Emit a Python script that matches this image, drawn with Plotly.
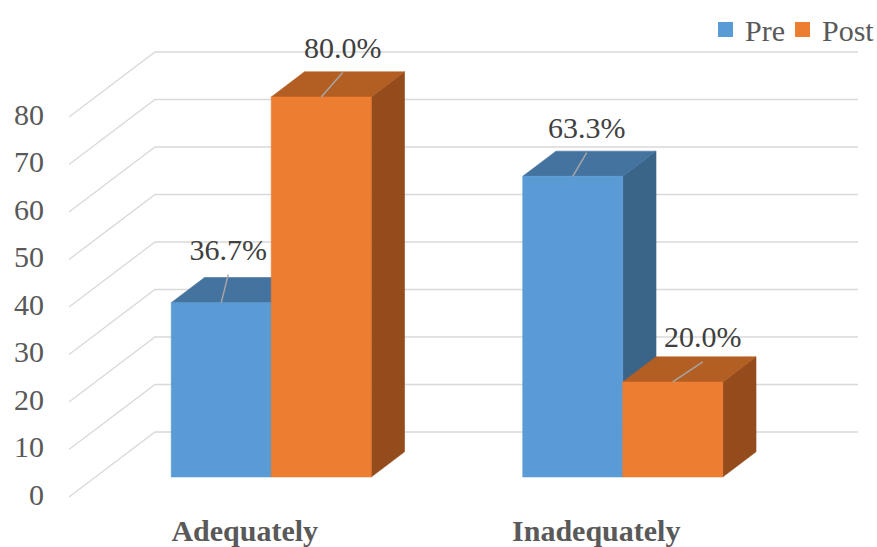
import plotly.graph_objects as go

# ---- data ----
categories = ["Adequately", "Inadequately"]
series_names = ["Pre", "Post"]
pre_values = [36.7, 63.3]
post_values = [80.0, 20.0]
tick_values = [0, 10, 20, 30, 40, 50, 60, 70, 80]

# ---- styling ----
FONT = "Liberation Serif, Times New Roman, serif"
TEXT_GREY = "#595959"
LABEL_GREY = "#404040"
GRID = "#D9D9D9"
FACE = {
    "Pre": {"front": "#5B9BD5", "top": "#44739F", "side": "#3A6488"},
    "Post": {"front": "#ED7D31", "top": "#B35E23", "side": "#954C1D"},
}

W, H = 877, 547
PX_PER_X = 351.5      # pixels per category step
PX_PER_V = 4.75       # pixels per value unit
X_LEFT_PX = 69        # pixel of x = -0.5 on the front plane
ZERO_PX = 497         # pixel of value 0 on the front plane

# oblique depth of the 3-D box (full depth), in data units
DX = 86 / PX_PER_X
DY = 65 / PX_PER_V
D0, D1 = 0.308, 0.695   # bar front / back depth fraction
BAR_W = 100 / PX_PER_X

# label offsets from each bar's top-front centre, in pixels (right, up)
label_offsets = {
    ("Pre", 0): (7, 50), ("Post", 0): (21.5, 46.5),
    ("Pre", 1): (14, 45.7), ("Post", 1): (30, 42),
}
LEADER_GAP = 22  # px from label centre down to leader start
CATEGORY_LABEL_PX = 36  # px below the front-plane zero line


def proj(x, v, d):
    return x + DX * d, v + DY * d


fig = go.Figure()

# 3-D wall gridlines: diagonal along the left side wall, then across the back wall
gx, gy = [], []
for t in tick_values:
    for (x, d) in [(-0.5, 0), (-0.5, 1), (1.5, 1)]:
        px_, py_ = proj(x, t, d)
        gx.append(px_)
        gy.append(py_)
    gx.append(None)
    gy.append(None)
fig.add_trace(go.Scatter(x=gx, y=gy, mode="lines",
                         line=dict(color=GRID, width=1.3),
                         hoverinfo="skip", showlegend=False))


def add_face(pts, color):
    xs = [p[0] for p in pts] + [pts[0][0]]
    ys = [p[1] for p in pts] + [pts[0][1]]
    fig.add_trace(go.Scatter(x=xs, y=ys, mode="lines", fill="toself",
                             fillcolor=color, line=dict(color=color, width=0.6),
                             hoverinfo="skip", showlegend=False))


labels_x, labels_y, labels_t = [], [], []
leader_x, leader_y = [], []

for ci, cat in enumerate(categories):
    for si, (name, vals) in enumerate(zip(series_names, [pre_values, post_values])):
        v = vals[ci]
        x0 = ci - BAR_W + si * BAR_W
        x1 = x0 + BAR_W
        col = FACE[name]
        # side face
        add_face([proj(x1, 0, D0), proj(x1, v, D0), proj(x1, v, D1), proj(x1, 0, D1)], col["side"])
        # top face
        add_face([proj(x0, v, D0), proj(x1, v, D0), proj(x1, v, D1), proj(x0, v, D1)], col["top"])
        # front face
        add_face([proj(x0, 0, D0), proj(x1, 0, D0), proj(x1, v, D0), proj(x0, v, D0)], col["front"])

        # value label and its leader line
        cx, ty = proj((x0 + x1) / 2, v, D0)
        ox, oy = label_offsets[(name, ci)]
        lx = cx + ox / PX_PER_X
        ly = ty + oy / PX_PER_V
        labels_x.append(lx)
        labels_y.append(ly)
        labels_t.append(f"{v:.1f}%")
        leader_x += [lx, cx, None]
        leader_y += [ly - LEADER_GAP / PX_PER_V, ty, None]

fig.add_trace(go.Scatter(x=leader_x, y=leader_y, mode="lines",
                         line=dict(color="#A6A6A6", width=1.5),
                         hoverinfo="skip", showlegend=False))
fig.add_trace(go.Scatter(x=labels_x, y=labels_y, mode="text", text=labels_t,
                         textposition="middle center",
                         textfont=dict(family=FONT, size=30, color=LABEL_GREY),
                         hoverinfo="skip", showlegend=False, cliponaxis=False))

# value axis labels on the front plane
fig.add_trace(go.Scatter(x=[-0.5 - 25 / PX_PER_X] * len(tick_values), y=tick_values,
                         mode="text", text=[str(t) for t in tick_values],
                         textposition="middle left",
                         textfont=dict(family=FONT, size=30, color=TEXT_GREY),
                         hoverinfo="skip", showlegend=False, cliponaxis=False))

# category labels
fig.add_trace(go.Scatter(x=list(range(len(categories))),
                         y=[-CATEGORY_LABEL_PX / PX_PER_V] * len(categories),
                         mode="text", text=[f"<b>{c}</b>" for c in categories],
                         textposition="middle center",
                         textfont=dict(family=FONT, size=30, color=TEXT_GREY),
                         hoverinfo="skip", showlegend=False, cliponaxis=False))

# legend
legend_items = [("Pre", 718), ("Post", 795)]
shapes, annos = [], []
for name, left in legend_items:
    shapes.append(dict(type="rect", xref="paper", yref="paper",
                       x0=left / W, x1=(left + 15) / W,
                       y0=1 - 37 / H, y1=1 - 22 / H,
                       fillcolor=FACE[name]["front"], line=dict(width=0)))
    annos.append(dict(xref="paper", yref="paper", x=(left + 25) / W, y=1 - 30 / H,
                      xanchor="left", yanchor="middle", showarrow=False,
                      text=name, font=dict(family=FONT, size=30, color=TEXT_GREY)))

x_range = [-0.5 - X_LEFT_PX / PX_PER_X, -0.5 + (W - X_LEFT_PX) / PX_PER_X]
y_range = [(ZERO_PX - H) / PX_PER_V, ZERO_PX / PX_PER_V]

fig.update_layout(
    width=W, height=H,
    margin=dict(l=0, r=0, t=0, b=0),
    paper_bgcolor="white", plot_bgcolor="white",
    xaxis=dict(range=x_range, visible=False, fixedrange=True),
    yaxis=dict(range=y_range, visible=False, fixedrange=True),
    shapes=shapes, annotations=annos,
    showlegend=False,
)

fig.write_html("out.html")
